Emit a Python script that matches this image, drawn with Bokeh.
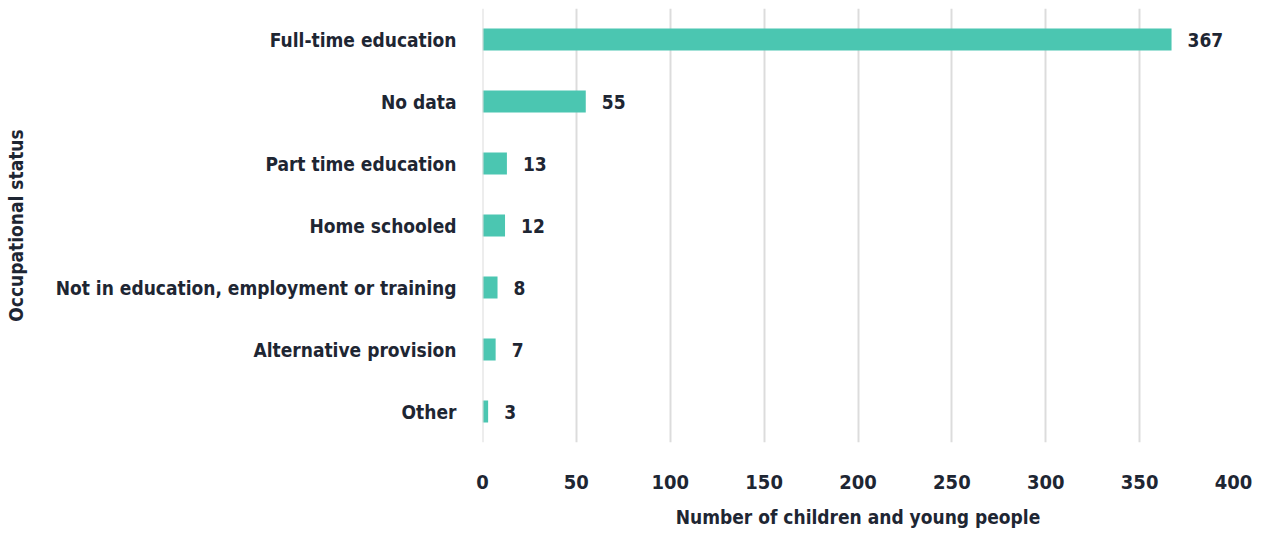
from bokeh.plotting import figure
from bokeh.models import ColumnDataSource, FixedTicker, Range1d, FactorRange, Span
from bokeh.core.properties import value
from bokeh.embed import file_html
from bokeh.resources import INLINE

categories = ["Full-time education", "No data", "Part time education", "Home schooled",
              "Not in education, employment or training", "Alternative provision", "Other"]
counts = [367, 55, 13, 12, 8, 7, 3]
x_ticks = [0, 50, 100, 150, 200, 250, 300, 350, 400]

FONT = "DejaVu Sans Condensed"
TEXT = "#1e2633"
BAR = "#4bc6b1"
GRID = "#dcdcdc"
FS = "19px"

src = ColumnDataSource(dict(cat=categories, n=counts, lbl=[str(v) for v in counts]))

p = figure(width=1263, height=536, output_backend="svg", toolbar_location=None,
           y_range=FactorRange(factors=list(reversed(categories)), range_padding=0),
           x_range=Range1d(0, 400),
           min_border_left=482, min_border_right=30, min_border_top=8, min_border_bottom=94)
p.outline_line_color = None
p.background_fill_color = "white"

p.xgrid.ticker = FixedTicker(ticks=x_ticks)
p.xgrid.grid_line_color = GRID
p.xgrid.grid_line_width = 2
p.ygrid.grid_line_color = None
p.add_layout(Span(location=x_ticks[0], dimension="height", line_color=GRID, line_width=2))

p.hbar(y="cat", right="n", left=0, height=0.355, source=src, color=BAR, line_color=None)
p.text(x="n", y="cat", text="lbl", source=src, x_offset=16, text_align="left",
       text_baseline="middle", text_font=value(FONT), text_font_style="bold",
       text_font_size=FS, text_color=TEXT)

p.xaxis.ticker = FixedTicker(ticks=x_ticks)

for ax in (p.xaxis[0], p.yaxis[0]):
    ax.axis_line_color = None
    ax.major_tick_line_color = None
    ax.minor_tick_line_color = None
    ax.major_label_text_font = FONT
    ax.major_label_text_font_style = "bold"
    ax.major_label_text_font_size = FS
    ax.major_label_text_color = TEXT
    ax.axis_label_text_font = FONT
    ax.axis_label_text_font_style = "bold"
    ax.axis_label_text_font_size = FS
    ax.axis_label_text_color = TEXT

p.xaxis.major_label_text_font_size = "20px"
p.xaxis.axis_label = "Number of children and young people"
p.yaxis.axis_label = "Occupational status"
p.xaxis.major_label_standoff = 26
p.xaxis.axis_label_standoff = 14
p.yaxis.major_label_standoff = 20
p.yaxis.axis_label_standoff = 26

open("out.html", "w").write(file_html(p, INLINE))
